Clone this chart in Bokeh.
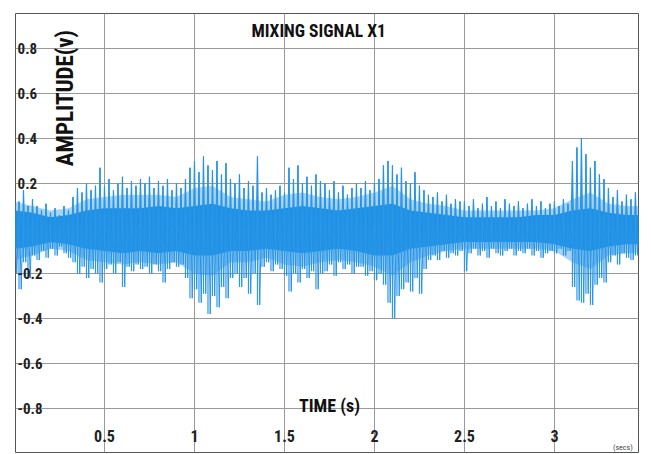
import numpy as np
from bokeh.plotting import figure
from bokeh.models import Range1d, FixedTicker, Label, ColumnDataSource
from bokeh.core.properties import value
from bokeh.embed import file_html
from bokeh.resources import INLINE

# ---- data ----
step = 0.025  # sampling of the envelope readings (s)
peak_hi = [0.15, 0.12, 0.17, 0.10, 0.13,
           0.10, 0.08, 0.11, 0.07, 0.09, 0.06, 0.10, 0.08,
           0.14, 0.18, 0.16, 0.20, 0.17, 0.19, 0.27,
           0.19, 0.22, 0.17, 0.20, 0.23, 0.18, 0.21, 0.19, 0.22,
           0.20, 0.23, 0.18, 0.21, 0.19, 0.22, 0.17, 0.20, 0.18,
           0.22, 0.27, 0.30, 0.25, 0.32, 0.28, 0.26, 0.30, 0.24, 0.29, 0.22,
           0.20, 0.24, 0.18, 0.21, 0.19,
           0.32,
           0.16, 0.18, 0.15, 0.17, 0.19, 0.16,
           0.27, 0.22, 0.28, 0.20, 0.23, 0.19, 0.24, 0.21,
           0.20, 0.17, 0.21, 0.16, 0.19, 0.15, 0.18, 0.20,
           0.18, 0.21, 0.17, 0.20, 0.22, 0.28,
           0.30, 0.28, 0.24, 0.27, 0.21, 0.20,
           0.25, 0.19, 0.17, 0.15,
           0.14, 0.16, 0.12, 0.15, 0.11, 0.13, 0.12,
           0.12, 0.10, 0.13, 0.09, 0.11, 0.14, 0.10, 0.12, 0.09, 0.13,
           0.11, 0.10, 0.12, 0.09, 0.11, 0.13, 0.10, 0.12, 0.09, 0.11,
           0.12, 0.10, 0.13, 0.11,
           0.30, 0.36, 0.40, 0.33, 0.27, 0.30, 0.24, 0.22,
           0.18, 0.14, 0.17, 0.12, 0.15, 0.13, 0.16]
peak_lo = [-0.20, -0.27, -0.15, -0.22, -0.12,
           -0.14, -0.10, -0.13, -0.09, -0.12, -0.08, -0.11, -0.13,
           -0.15, -0.20, -0.17, -0.22, -0.18, -0.20, -0.24,
           -0.18, -0.16, -0.20, -0.15, -0.26, -0.17, -0.19, -0.16, -0.18,
           -0.17, -0.20, -0.16, -0.19, -0.24, -0.18, -0.15, -0.17, -0.16,
           -0.22, -0.31, -0.27, -0.33, -0.29, -0.38, -0.30, -0.35, -0.26, -0.31, -0.22,
           -0.20, -0.26, -0.22, -0.29, -0.20,
           -0.34,
           -0.17, -0.15, -0.19, -0.16, -0.18, -0.21,
           -0.28, -0.20, -0.24, -0.18, -0.22, -0.19, -0.27, -0.20,
           -0.19, -0.16, -0.21, -0.15, -0.18, -0.16, -0.20, -0.17,
           -0.17, -0.21, -0.19, -0.23, -0.20, -0.25,
           -0.33, -0.40, -0.30, -0.27, -0.24, -0.28,
           -0.22, -0.29, -0.18, -0.14,
           -0.12, -0.14, -0.10, -0.13, -0.11, -0.12, -0.10,
           -0.19, -0.11, -0.09, -0.12, -0.10, -0.13, -0.09, -0.11, -0.12, -0.10,
           -0.09, -0.12, -0.10, -0.11, -0.09, -0.12, -0.10, -0.13, -0.11, -0.10,
           -0.11, -0.09, -0.12, -0.10,
           -0.26, -0.32, -0.33, -0.29, -0.34, -0.25, -0.22, -0.24,
           -0.15, -0.12, -0.16, -0.11, -0.13, -0.14, -0.12]

env_t = [0.0, 0.1, 0.2, 0.3, 0.4, 0.5, 0.6, 0.7, 0.8, 0.9, 1.0, 1.1, 1.2,
         1.3, 1.4, 1.5, 1.6, 1.7, 1.8, 1.9, 2.0, 2.1, 2.2, 2.3, 2.4, 2.5,
         2.6, 2.7, 2.8, 2.9, 3.0, 3.1, 3.2, 3.3, 3.4, 3.47]
core_hi = [0.08, 0.07, 0.05, 0.06, 0.08, 0.09, 0.09, 0.09, 0.10, 0.09, 0.10,
           0.11, 0.09, 0.08, 0.08, 0.09, 0.10, 0.09, 0.08, 0.09, 0.10, 0.11,
           0.08, 0.07, 0.06, 0.05, 0.05, 0.05, 0.05, 0.06, 0.06, 0.08, 0.09,
           0.07, 0.06, 0.06]
core_lo = [-0.09, -0.08, -0.06, -0.07, -0.09, -0.10, -0.11, -0.10, -0.11,
           -0.10, -0.12, -0.12, -0.10, -0.10, -0.09, -0.10, -0.11, -0.10,
           -0.09, -0.10, -0.12, -0.12, -0.09, -0.08, -0.07, -0.06, -0.06,
           -0.06, -0.06, -0.06, -0.07, -0.09, -0.10, -0.08, -0.07, -0.07]
fringe_hi = [0.12, 0.10, 0.08, 0.09, 0.13, 0.14, 0.15, 0.15, 0.15, 0.14, 0.18,
             0.19, 0.14, 0.13, 0.12, 0.15, 0.16, 0.14, 0.13, 0.14, 0.16, 0.19,
             0.13, 0.11, 0.10, 0.08, 0.08, 0.08, 0.08, 0.08, 0.09, 0.13, 0.16,
             0.11, 0.10, 0.10]
fringe_lo = [-0.14, -0.12, -0.09, -0.10, -0.14, -0.15, -0.16, -0.15, -0.16,
             -0.15, -0.20, -0.21, -0.15, -0.15, -0.13, -0.16, -0.17, -0.15,
             -0.14, -0.15, -0.17, -0.21, -0.15, -0.12, -0.10, -0.09, -0.09,
             -0.09, -0.09, -0.09, -0.10, -0.15, -0.18, -0.12, -0.11, -0.11]

x_ticks = [0.5, 1, 1.5, 2, 2.5, 3]
x_tick_labels = ["0.5", "1", "1.5", "2", "2.5", "3"]
y_ticks = [-0.8, -0.6, -0.4, -0.2, 0.2, 0.4, 0.6, 0.8]
y_tick_labels = ["-0.8", "-0.6", "-0.4", "-0.2", "0.2", "0.4", "0.6", "0.8"]

# ---- figure ----
NARROW = "'Liberation Sans Narrow', 'Arial Narrow', 'Roboto Condensed', 'Liberation Sans', sans-serif"

p = figure(width=651, height=454, output_backend="svg", toolbar_location=None,
           x_range=Range1d(0.0056, 3.467), y_range=Range1d(-0.996, 0.956),
           min_border_left=15, min_border_right=13, min_border_top=13,
           min_border_bottom=2)
p.xaxis.visible = False
p.yaxis.visible = False
p.xgrid.ticker = FixedTicker(ticks=x_ticks)
p.ygrid.ticker = FixedTicker(ticks=y_ticks + [0.0])
p.grid.grid_line_color = "#9a9a9a"
p.grid.grid_line_width = 1
p.outline_line_color = "#555555"
p.outline_line_width = 1
p.background_fill_color = "white"
p.border_fill_color = "white"

t = np.arange(len(peak_hi)) * step
hi = np.array(peak_hi)
lo = np.array(peak_lo)

# lighter, partly filled fringe of the waveform
p.varea(x=env_t, y1=fringe_lo, y2=fringe_hi, fill_color="#3a9ee8", fill_alpha=0.45)

# dense core of the waveform
p.varea(x=env_t, y1=core_lo, y2=core_hi, fill_color="#1e91e6", fill_alpha=1.0)

# vertical strokes (envelope excursions)
p.segment(x0=t, y0=lo, x1=t, y1=hi, line_color="#2d98e7", line_width=1.2)

# zig-zag trace between upper and lower readings
zx = np.empty(2 * len(t))
zy = np.empty(2 * len(t))
zx[0::2] = t
zx[1::2] = t + step / 2
zy[0::2] = hi
zy[1::2] = lo
p.line(zx, zy, line_color="#2794e6", line_width=1)

# ---- texts ----
yl = ColumnDataSource(dict(x=[0.017] * len(y_ticks), y=y_ticks, text=y_tick_labels))
p.text(x="x", y="y", text="text", source=yl, text_font=value(NARROW),
       text_font_size="15px", text_font_style="bold", text_color="#222222",
       text_align="left", text_baseline="middle")
xl = ColumnDataSource(dict(x=x_ticks, y=[-0.924] * len(x_ticks), text=x_tick_labels))
p.text(x="x", y="y", text="text", source=xl, text_font=value(NARROW),
       text_font_size="16px", text_font_style="bold", text_color="#222222",
       text_align="center", text_baseline="middle")

p.add_layout(Label(x=1.69, y=0.88, text="MIXING SIGNAL X1", text_font=NARROW,
                   text_font_size="17.5px", text_font_style="bold", text_color="#111111",
                   text_align="center", text_baseline="middle"))
p.add_layout(Label(x=0.283, y=0.58, text="AMPLITUDE(v)", angle=np.pi / 2,
                   text_font=NARROW, text_font_size="23px", text_font_style="bold",
                   text_color="#111111", text_align="center", text_baseline="middle"))
p.add_layout(Label(x=1.75, y=-0.787, text="TIME (s)", text_font=NARROW,
                   text_font_size="18px", text_font_style="bold", text_color="#111111",
                   text_align="center", text_baseline="middle"))
p.add_layout(Label(x=3.38, y=-0.973, text="(secs)", text_font=NARROW,
                   text_font_size="8px", text_color="#444444",
                   text_align="center", text_baseline="middle"))

open("out.html", "w").write(file_html(p, INLINE))
